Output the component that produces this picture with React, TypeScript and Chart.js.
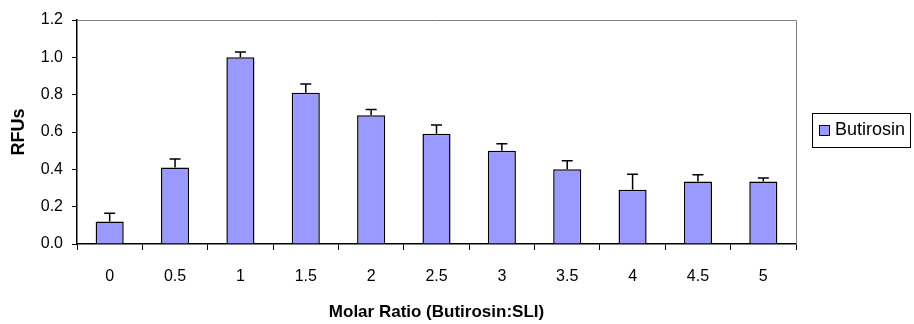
import React, { useEffect, useRef } from "react";
import { Chart, registerables } from "chart.js";

Chart.register(...registerables);

const categories = ["0", "0.5", "1", "1.5", "2", "2.5", "3", "3.5", "4", "4.5", "5"];
const seriesLabel = "Butirosin";
const values = [0.12, 0.41, 1.0, 0.81, 0.69, 0.59, 0.5, 0.4, 0.29, 0.335, 0.335];
const errors = [0.045, 0.045, 0.028, 0.047, 0.03, 0.047, 0.037, 0.046, 0.083, 0.036, 0.018];
const xTitle = "Molar Ratio (Butirosin:SLI)";
const yTitle = "RFUs";
const yMin = 0;
const yMax = 1.2;
const yStep = 0.2;

const FONT = "'Liberation Sans', Arial, sans-serif";
const BAR_FILL = "#9999FF";

const errorBarPlugin = {
  id: "errorBars",
  afterDatasetsDraw(chart: any) {
    const ctx = chart.ctx;
    const meta = chart.getDatasetMeta(0);
    const y = chart.scales.y;
    ctx.save();
    ctx.strokeStyle = "#000";
    ctx.lineWidth = 1.5;
    meta.data.forEach((bar: any, i: number) => {
      const top = y.getPixelForValue(values[i] + errors[i]);
      const base = y.getPixelForValue(values[i]);
      const x = bar.x;
      ctx.beginPath();
      ctx.moveTo(x, base);
      ctx.lineTo(x, top);
      ctx.moveTo(x - 5.5, top);
      ctx.lineTo(x + 5.5, top);
      ctx.stroke();
    });
    ctx.restore();
  },
};

const framePlugin = {
  id: "frame",
  afterDraw(chart: any) {
    const { ctx, chartArea } = chart;
    const { left, right, top, bottom } = chartArea;
    ctx.save();
    ctx.strokeStyle = "#808080";
    ctx.lineWidth = 1;
    ctx.beginPath();
    ctx.moveTo(left, top + 0.5);
    ctx.lineTo(right + 0.5, top + 0.5);
    ctx.lineTo(right + 0.5, bottom);
    ctx.stroke();
    ctx.restore();
  },
};

const legendPlugin = {
  id: "boxLegend",
  afterDraw(chart: any) {
    const ctx = chart.ctx;
    const bx = 812;
    const by = 113.5;
    const bw = 98;
    const bh = 34;
    ctx.save();
    ctx.fillStyle = "#fff";
    ctx.fillRect(bx, by, bw, bh);
    ctx.strokeStyle = "#000";
    ctx.lineWidth = 1;
    ctx.strokeRect(bx + 0.5, by, bw, bh);
    ctx.fillStyle = BAR_FILL;
    ctx.fillRect(819.5, 125.5, 10, 10);
    ctx.strokeRect(819.5, 125.5, 10, 10);
    ctx.fillStyle = "#000";
    ctx.font = `18px ${FONT}`;
    ctx.textBaseline = "middle";
    ctx.textAlign = "left";
    ctx.fillText(chart.data.datasets[0].label, 835, 130.5);
    ctx.restore();
  },
};

export default function App() {
  const canvasRef = useRef<HTMLCanvasElement | null>(null);

  useEffect(() => {
    document.body.style.margin = "0";
    const canvas = canvasRef.current;
    if (!canvas) return;
    const chart = new Chart(canvas, {
      type: "bar",
      data: {
        labels: categories,
        datasets: [
          {
            label: seriesLabel,
            data: values,
            backgroundColor: BAR_FILL,
            borderColor: "#000",
            borderWidth: 1.5,
            barPercentage: 0.43,
            categoryPercentage: 1,
          },
        ],
      },
      options: {
        responsive: false,
        animation: false,
        layout: { padding: { left: 0, top: 20, right: 118, bottom: 0 } },
        plugins: {
          legend: { display: false },
          tooltip: { enabled: false },
        },
        scales: {
          x: {
            offset: true,
            grid: {
              display: true,
              offset: true,
              drawOnChartArea: false,
              drawTicks: true,
              tickLength: 6,
              color: "#000",
            },
            border: { display: true, color: "#000", width: 1.5 },
            ticks: {
              color: "#000",
              font: { family: FONT, size: 16 },
              padding: 17,
              maxRotation: 0,
            },
            title: {
              display: true,
              text: xTitle,
              color: "#000",
              font: { family: FONT, size: 17, weight: "bold" },
              padding: { top: 0, bottom: 1 },
            },
            afterFit(scale: any) {
              scale.height = 80;
            },
          },
          y: {
            min: yMin,
            max: yMax,
            grid: {
              display: true,
              drawOnChartArea: false,
              drawTicks: true,
              tickLength: 5,
              color: "#000",
            },
            border: { display: true, color: "#000", width: 1.5 },
            ticks: {
              stepSize: yStep,
              color: "#000",
              font: { family: FONT, size: 16 },
              padding: 9,
              callback: (v: any) => Number(v).toFixed(1),
            },
            title: {
              display: true,
              text: yTitle,
              color: "#000",
              font: { family: FONT, size: 18, weight: "bold" },
              padding: { top: 8, bottom: 0 },
            },
            afterFit(scale: any) {
              scale.width = 77;
            },
          },
        },
      },
      plugins: [errorBarPlugin, framePlugin, legendPlugin],
    });
    return () => chart.destroy();
  }, []);

  return (
    <div style={{ position: "absolute", left: 0, top: 0, width: 914, height: 324, background: "#fff" }}>
      <canvas ref={canvasRef} width={914} height={324} />
    </div>
  );
}
